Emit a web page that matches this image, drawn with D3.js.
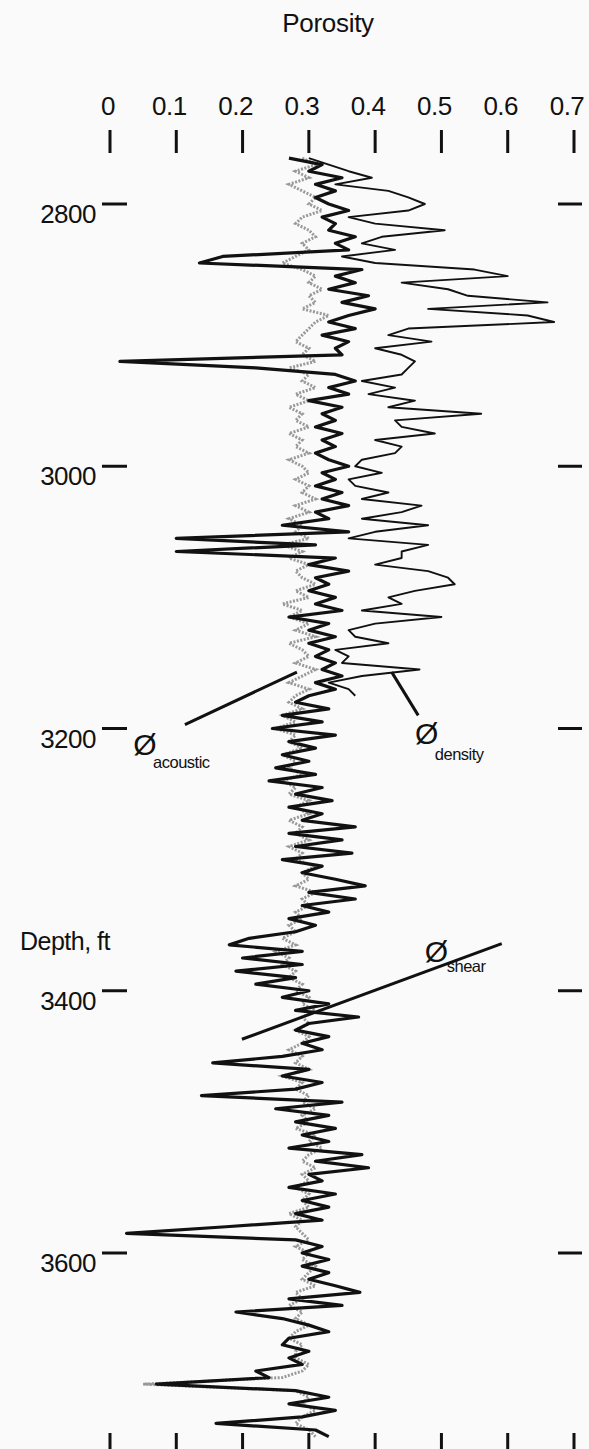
<!DOCTYPE html>
<html>
<head>
<meta charset="utf-8">
<script src="https://cdn.jsdelivr.net/npm/d3@7"></script>
<style>
  html, body { margin: 0; padding: 0; background: #fafafa; }
  svg { display: block; }
  text { font-family: "Liberation Sans", Arial, sans-serif; fill: #111; }
</style>
</head>
<body>
<svg id="chart" width="589" height="1449"></svg>
<script>
const depthStart = 2765;
const depthStep = 5;

const porosityTicks = [0, 0.1, 0.2, 0.3, 0.4, 0.5, 0.6, 0.7];
const porosityLabels = ['0', '0.1', '0.2', '0.3', '0.4', '0.5', '0.6', '0.7'];
const depthTicks = [2800, 3000, 3200, 3400, 3600];

// acoustic porosity (grey trace), 2765-3740 ft
const acoustic = [
  0.29,0.31,0.28,0.30,0.27,0.29,0.31,0.30,0.32,0.29,0.28,0.30,0.31,0.29,0.30,0.28,0.26,0.29,0.31,0.30,
  0.32,0.30,0.31,0.29,0.33,0.31,0.30,0.29,0.28,0.30,0.29,0.31,0.27,0.30,0.29,0.31,0.28,0.30,0.27,0.29,
  0.28,0.30,0.27,0.29,0.28,0.30,0.27,0.29,0.30,0.28,0.30,0.29,0.31,0.28,0.30,0.27,0.29,0.28,0.30,0.26,
  0.29,0.27,0.30,0.28,0.29,0.31,0.28,0.30,0.26,0.29,0.27,0.30,0.28,0.31,0.27,0.29,0.30,0.28,0.31,0.29,
  0.27,0.30,0.28,
  0.27,0.29,0.26,0.28,0.25,0.28,0.27,0.29,0.26,0.28,0.27,0.29,0.26,0.28,0.27,0.30,0.28,0.30,0.27,0.29,
  0.28,0.30,0.27,0.29,0.28,0.31,0.29,0.30,0.28,0.31,0.29,0.30,0.28,0.29,0.27,0.28,0.26,0.28,0.25,0.27,
  0.26,0.28,0.27,0.29,0.28,0.30,0.29,0.31,0.29,0.30,0.28,0.30,0.29,0.27,0.29,0.28,0.30,0.26,0.29,0.28,
  0.30,0.29,0.31,0.29,0.30,0.28,0.31,0.30,0.32,0.30,0.29,0.31,0.29,0.30,0.28,0.30,0.29,0.30,0.27,0.29,
  0.28,0.29,0.30,0.28,0.30,0.29,0.31,0.30,0.29,0.31,0.28,0.29,0.27,0.29,0.28,0.30,0.28,0.27,0.29,0.28,
  0.28,0.30,0.29,0.26,0.05,0.28,0.30,0.29,0.31,0.29,0.28,0.30,0.31
];

// density porosity (thin black trace), 2765-3175 ft
const density = [
  0.30,0.33,0.36,0.395,0.34,0.42,0.45,0.475,0.45,0.36,0.40,0.505,0.41,0.38,0.43,0.35,0.40,0.55,0.60,0.44,
  0.51,0.54,0.66,0.48,0.63,0.67,0.45,0.42,0.485,0.40,0.44,0.46,0.45,0.44,0.38,0.43,0.39,0.46,0.42,0.56,
  0.43,0.44,0.49,0.40,0.44,0.43,0.38,0.37,0.41,0.36,0.37,0.42,0.38,0.47,0.44,0.38,0.48,0.40,0.36,0.48,
  0.44,0.44,0.40,0.48,0.51,0.52,0.46,0.42,0.44,0.38,0.50,0.40,0.36,0.37,0.42,0.34,0.36,0.35,0.467,0.38,
  0.33,0.36,0.37
];

// shear porosity (heavy black trace), 2765-3740 ft
const shear = [
  0.27,0.32,0.30,0.35,0.31,0.34,0.31,0.33,0.36,0.32,0.34,0.33,0.37,0.34,0.36,0.17,0.135,0.38,0.34,0.37,
  0.33,0.39,0.35,0.40,0.36,0.33,0.37,0.32,0.36,0.34,0.35,0.015,0.22,0.34,0.37,0.33,0.36,0.30,0.35,0.32,
  0.34,0.31,0.35,0.32,0.34,0.31,0.33,0.36,0.32,0.34,0.31,0.35,0.32,0.36,0.31,0.33,0.26,0.36,0.10,0.31,
  0.10,0.34,0.30,0.36,0.31,0.33,0.30,0.34,0.31,0.35,0.27,0.33,0.30,0.34,0.30,0.33,0.31,0.34,0.32,0.35,
  0.31,0.34,0.30,
  0.28,0.33,0.26,0.32,0.245,0.34,0.27,0.31,0.26,0.30,0.25,0.31,0.24,0.32,0.28,0.335,0.27,0.32,0.29,0.37,
  0.27,0.35,0.28,0.365,0.26,0.32,0.29,0.34,0.385,0.30,0.37,0.29,0.33,0.27,0.31,0.28,0.21,0.18,0.29,0.20,
  0.29,0.19,0.28,0.22,0.30,0.26,0.33,0.28,0.375,0.30,0.28,0.33,0.29,0.32,0.26,0.155,0.30,0.26,0.32,0.28,
  0.138,0.35,0.25,0.33,0.28,0.34,0.29,0.33,0.27,0.38,0.31,0.39,0.30,0.32,0.27,0.34,0.29,0.33,0.28,0.32,
  0.175,0.025,0.28,0.32,0.29,0.33,0.29,0.33,0.30,0.34,0.377,0.27,0.35,0.19,0.26,0.30,0.33,0.27,0.26,0.30,
  0.27,0.29,0.22,0.24,0.07,0.28,0.33,0.27,0.34,0.29,0.16,0.31,0.33
];

// curve labels: leader line from/to and symbol/subscript anchors, as (porosity, depth)
const labels = [
  { name: 'acoustic', from: [0.113, 3197], to: [0.282, 3157], at: [0.035, 3220], sub: [0.065, 3230] },
  { name: 'density',  from: [0.465, 3190], to: [0.425, 3157], at: [0.46, 3212],  sub: [0.49, 3224] },
  { name: 'shear',    from: [0.199, 3437], to: [0.591, 3364], at: [0.475, 3378], sub: [0.508, 3386] }
];

const svg = d3.select('#chart');

const x = d3.scaleLinear().domain([0, 0.7]).range([110, 574]);
const y = d3.scaleLinear().domain([2800, 3600]).range([204, 1253]);

const depthOf = i => depthStart + i * depthStep;

// Title
svg.append('text')
  .attr('x', 328)
  .attr('y', 32)
  .attr('text-anchor', 'middle')
  .style('font-size', '26px')
  .style('letter-spacing', '-0.3px')
  .text('Porosity');

// Top tick labels
svg.selectAll('.xlabel')
  .data(porosityTicks)
  .enter().append('text')
  .attr('class', 'xlabel')
  .attr('x', (d, i) => x(d) - (i === 0 ? 2 : 7))
  .attr('y', 115)
  .attr('text-anchor', 'middle')
  .style('font-size', '26px')
  .style('letter-spacing', '-0.5px')
  .text((d, i) => porosityLabels[i]);

// Top and bottom ticks
[[130, 153], [1433, 1449]].forEach(([y1, y2]) => {
  svg.selectAll(null)
    .data(porosityTicks)
    .enter().append('line')
    .attr('x1', d => x(d)).attr('x2', d => x(d))
    .attr('y1', y1).attr('y2', y2)
    .attr('stroke', '#111')
    .attr('stroke-width', 3);
});

// Depth ticks left and right
depthTicks.forEach(d => {
  svg.append('line')
    .attr('x1', 102).attr('x2', 127)
    .attr('y1', y(d)).attr('y2', y(d))
    .attr('stroke', '#111').attr('stroke-width', 3);
  svg.append('line')
    .attr('x1', 558).attr('x2', 582)
    .attr('y1', y(d)).attr('y2', y(d))
    .attr('stroke', '#111').attr('stroke-width', 3);
  svg.append('text')
    .attr('x', 96)
    .attr('y', y(d) + 19)
    .attr('text-anchor', 'end')
    .style('font-size', '26px')
    .style('letter-spacing', '-0.5px')
    .text(d);
});

// Depth axis title
svg.append('text')
  .attr('x', 110)
  .attr('y', 950)
  .attr('text-anchor', 'end')
  .style('font-size', '25px')
  .style('letter-spacing', '-0.5px')
  .text('Depth, ft');

const line = d3.line()
  .x(d => x(d))
  .y((d, i) => y(depthOf(i)));

// Acoustic (grey, stippled)
svg.append('path')
  .datum(acoustic)
  .attr('d', line)
  .attr('fill', 'none')
  .attr('stroke', '#999')
  .attr('stroke-width', 3)
  .attr('stroke-dasharray', '2,1.5');

// Density (thin black)
svg.append('path')
  .datum(density)
  .attr('d', line)
  .attr('fill', 'none')
  .attr('stroke', '#111')
  .attr('stroke-width', 1.9)
  .attr('stroke-linejoin', 'round');

// Shear (heavy black)
svg.append('path')
  .datum(shear)
  .attr('d', line)
  .attr('fill', 'none')
  .attr('stroke', '#111')
  .attr('stroke-width', 3.2)
  .attr('stroke-linejoin', 'round');

// Curve labels
labels.forEach(l => {
  svg.append('line')
    .attr('x1', x(l.from[0])).attr('y1', y(l.from[1]))
    .attr('x2', x(l.to[0])).attr('y2', y(l.to[1]))
    .attr('stroke', '#111')
    .attr('stroke-width', 3);
  svg.append('text')
    .attr('x', x(l.at[0]))
    .attr('y', y(l.at[1]))
    .style('font-size', '30px')
    .text('\u00D8');
  svg.append('text')
    .attr('x', x(l.sub[0]))
    .attr('y', y(l.sub[1]))
    .style('font-size', '16.5px')
    .style('letter-spacing', '-0.5px')
    .text(l.name);
});
</script>
</body>
</html>
